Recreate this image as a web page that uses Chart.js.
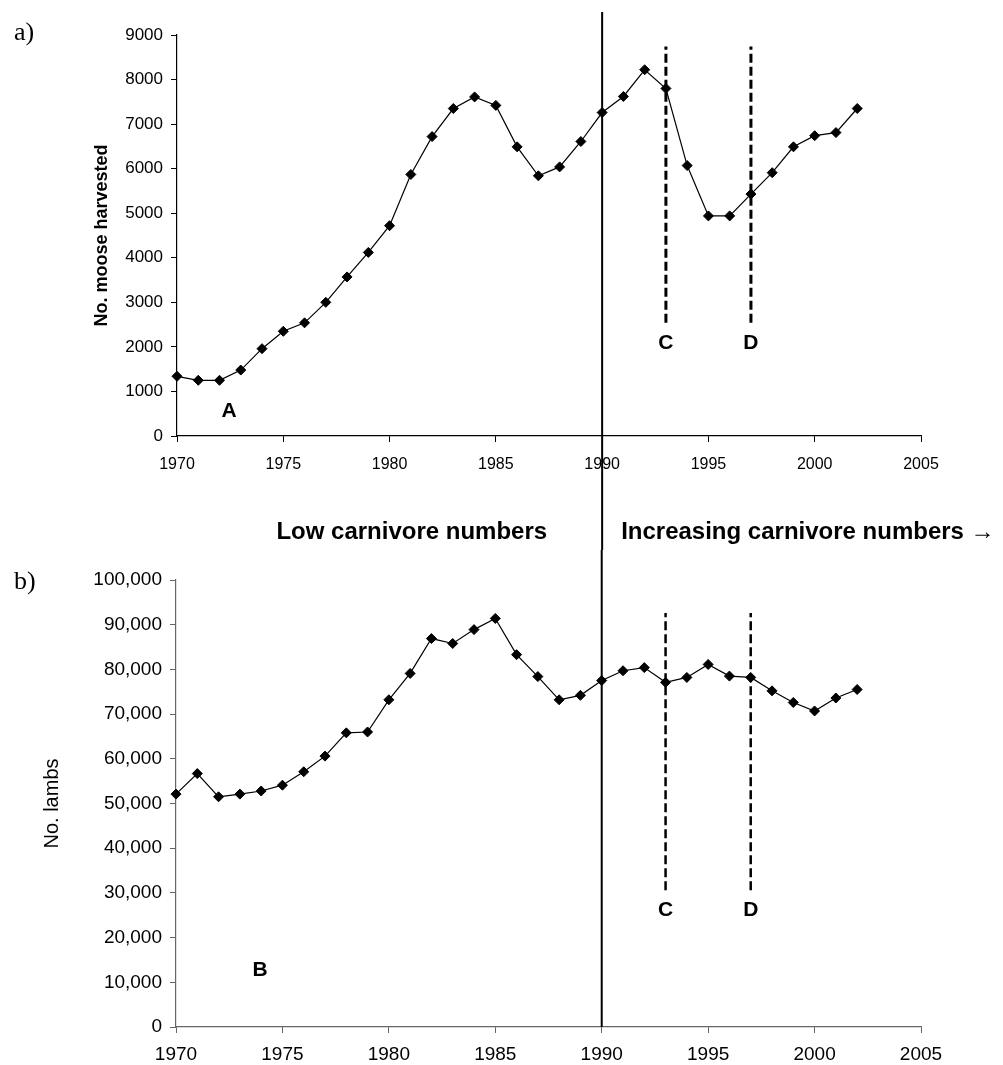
<!DOCTYPE html>
<html>
<head>
<meta charset="utf-8">
<script src="https://cdn.jsdelivr.net/npm/chart.js@4.4.1/dist/chart.umd.min.js"></script>
<style>
body { margin: 0; background: #fff; }
#wrap { position: relative; width: 1003px; height: 1065px; }
#moose { position: absolute; left: 0; top: 0; }
#lambs { position: absolute; left: 0; top: 550px; }
</style>
</head>
<body>
<div id="wrap">
    <canvas id="moose" width="1003" height="550"></canvas>
    <canvas id="lambs" width="1003" height="515"></canvas>
</div>
<script>
var years = [1970, 1971, 1972, 1973, 1974, 1975, 1976, 1977, 1978, 1979,
    1980, 1981, 1982, 1983, 1984, 1985, 1986, 1987, 1988, 1989,
    1990, 1991, 1992, 1993, 1994, 1995, 1996, 1997, 1998, 1999,
    2000, 2001, 2002];
var moose = [1340, 1250, 1250, 1480, 1960, 2350, 2540, 3000, 3570, 4120,
    4720, 5870, 6720, 7350, 7610, 7420, 6490, 5840, 6040, 6610,
    7260, 7620, 8220, 7800, 6070, 4940, 4940, 5430, 5910, 6490,
    6740, 6810, 7350];
var lambs = [52100, 56700, 51500, 52100, 52800, 54100, 57100, 60600, 65800, 66000,
    73200, 79100, 86900, 85800, 88900, 91400, 83300, 78400, 73200, 74200,
    77500, 79700, 80400, 77100, 78200, 81100, 78500, 78200, 75200, 72600,
    70700, 73600, 75500];
var xTicks = [1970, 2005, 5];
var splitYear = 1990;
var eventYears = [1993, 1997];
var mooseLetters = [["A", 1972.45, 560], ["C", 1993, 2090], ["D", 1997, 2090]];
var lambLetters = [["B", 1973.95, 12700], ["C", 1993, 26100], ["D", 1997, 26100]];

const sans = "'Liberation Sans', Arial, sans-serif";
Chart.defaults.font.family = sans;
Chart.defaults.color = '#000';

function points(values) {
    return years.map((yr, i) => ({ x: yr, y: values[i] }));
}

function overlay(o) {
    return {
        id: 'overlay',
        beforeDatasetsDraw(chart) {
            const { ctx, scales: { x, y } } = chart;
            const sx = x.getPixelForValue(splitYear);
            ctx.save();
            ctx.strokeStyle = '#000';
            ctx.lineWidth = 2;
            ctx.beginPath();
            ctx.moveTo(sx, o.lineTop);
            ctx.lineTo(sx, o.lineBottom === 'axis' ? chart.chartArea.bottom : chart.height);
            ctx.stroke();
            ctx.setLineDash(o.dash);
            ctx.lineWidth = o.dashWidth;
            eventYears.forEach(yr => {
                const px = x.getPixelForValue(yr);
                ctx.beginPath();
                ctx.moveTo(px, y.getPixelForValue(o.dashFrom));
                ctx.lineTo(px, y.getPixelForValue(o.dashTo));
                ctx.stroke();
            });
            ctx.restore();
        },
        afterDraw(chart) {
            const { ctx, scales: { x, y } } = chart;
            ctx.save();
            ctx.fillStyle = '#000';
            ctx.textAlign = 'center';
            ctx.textBaseline = 'middle';
            ctx.font = 'bold 21px ' + sans;
            o.letters.forEach(l => {
                ctx.fillText(l[0], x.getPixelForValue(l[1]), y.getPixelForValue(l[2]));
            });
            ctx.font = "26px 'Liberation Serif', 'Times New Roman', serif";
            ctx.textAlign = 'left';
            ctx.fillText(o.panel, 14, o.panelY);
            if (o.middle) {
                const sx = x.getPixelForValue(splitYear);
                ctx.font = 'bold 24px ' + sans;
                ctx.textAlign = 'right';
                ctx.fillText('Low carnivore numbers', sx - 55, 532);
                ctx.textAlign = 'left';
                ctx.fillText('Increasing carnivore numbers \u2192', sx + 19, 532);
            }
            ctx.restore();
        }
    };
}

function makeChart(id, values, s) {
    return new Chart(document.getElementById(id), {
        type: 'line',
        data: {
            datasets: [{
                data: points(values),
                borderColor: '#000',
                backgroundColor: '#000',
                borderWidth: 1.2,
                pointStyle: 'rectRot',
                pointRadius: 5,
                pointBorderWidth: 1,
                tension: 0,
                clip: false
            }]
        },
        options: {
            responsive: false,
            animation: false,
            layout: { padding: { left: s.padLeft, top: s.padTop, right: 82, bottom: 0 } },
            plugins: { legend: { display: false }, tooltip: { enabled: false } },
            scales: {
                x: {
                    type: 'linear',
                    min: xTicks[0],
                    max: xTicks[1],
                    afterFit: scale => { scale.height = s.xHeight; },
                    ticks: { stepSize: xTicks[2], font: { size: s.xFont }, padding: s.xPad,
                        maxRotation: 0, callback: v => String(v) },
                    grid: { drawOnChartArea: false, tickLength: 6, color: s.axis, tickWidth: 1 },
                    border: { color: s.axis, width: 1.2 }
                },
                y: {
                    min: 0,
                    max: s.yMax,
                    afterFit: scale => { scale.width = s.yWidth; },
                    ticks: { stepSize: s.yStep, font: { size: s.yFont }, padding: 8,
                        callback: v => s.comma ? v.toLocaleString('en-US') : String(v) },
                    grid: { drawOnChartArea: false, tickLength: 6, color: s.axis, tickWidth: 1 },
                    border: { color: s.axis, width: 1.2 },
                    title: { display: true, text: s.title, font: s.titleFont, padding: { top: s.titlePad, bottom: 0 } }
                }
            }
        },
        plugins: [overlay(s.overlay)]
    });
}

makeChart('moose', moose, {
    padLeft: 80, padTop: 35, xHeight: 114, yWidth: 97,
    xFont: 16, xPad: 13, yFont: 17, yMax: 9000, yStep: 1000, comma: false,
    axis: '#000', title: 'No. moose harvested',
    titleFont: { size: 18, weight: 'bold' }, titlePad: 11,
    overlay: { lineTop: 12, lineBottom: 'canvas', dash: [9, 4], dashWidth: 3,
        dashFrom: 2540, dashTo: 8740, letters: mooseLetters, panel: 'a)', panelY: 33, middle: true }
});

makeChart('lambs', lambs, {
    padLeft: 30, padTop: 30, xHeight: 38, yWidth: 146,
    xFont: 19, xPad: 10, yFont: 19, yMax: 100000, yStep: 10000, comma: true,
    axis: '#666', title: 'No. lambs',
    titleFont: { size: 20 }, titlePad: 10,
    overlay: { lineTop: 0, lineBottom: 'axis', dash: [9, 4], dashWidth: 2.5,
        dashFrom: 30600, dashTo: 92600, letters: lambLetters, panel: 'b)', panelY: 32, middle: false }
});
</script>
</body>
</html>
